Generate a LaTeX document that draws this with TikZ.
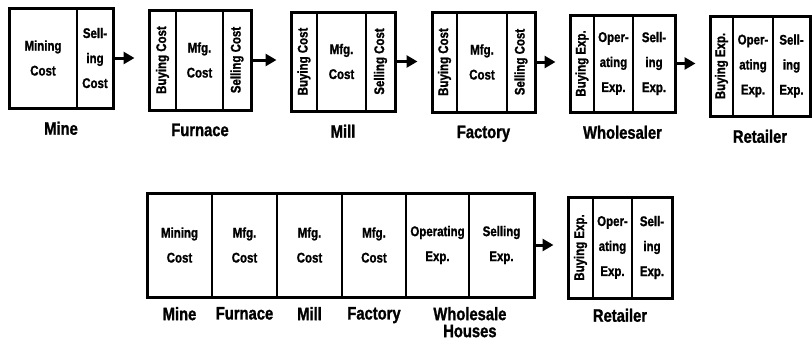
\documentclass[tikz,border=0pt]{standalone}
\usepackage{fontspec}
\setmainfont{Liberation Sans}[FakeStretch=0.82,BoldFeatures={FakeBold=1.2}]
\usetikzlibrary{positioning,arrows.meta}

\begin{document}
\begin{tikzpicture}[x=1pt,y=-1pt,
    stage/.style ={draw, line width=3pt, inner sep=0pt},
    cell/.style ={draw, line width=1.8pt, inner sep=0pt, align=center,
      font=\bfseries\fontsize{14}{25}\selectfont},
    side/.style ={cell, rotate=90},
    stagename/.style ={inner sep=0pt, align=center,
      font=\bfseries\fontsize{18}{17}\selectfont},
    flow/.style ={line width=3pt, -{Triangle[length=11pt,width=12pt]}, shorten >=13pt}]
   \useasboundingbox (0,0) rectangle (812,340);

   % top row: each stage with its own costs
   \node[cell, minimum width=68pt, minimum height=100pt] (mine1) at (43,58) {Mining\\Cost};
   \node[cell, minimum width=36pt, minimum height=100pt] (mine2) at (95,58) {Sell-\\ing\\Cost};
   \node[stage, minimum width=104pt, minimum height=100pt] (mine) at (61,58) {};
   \node[stagename, below=12pt of mine] {Mine};

   \node[side, minimum width=100pt, minimum height=27pt] (furn1) at (162.5,60) {Buying Cost};
   \node[cell, minimum width=47pt, minimum height=100pt] (furn2) at (199.5,60) {Mfg.\\Cost};
   \node[side, minimum width=100pt, minimum height=28pt] (furn3) at (237,60) {Selling Cost};
   \node[stage, minimum width=102pt, minimum height=100pt] (furnace) at (200,60) {};
   \node[stagename, below=12pt of furnace] {Furnace};

   \node[side, minimum width=99pt, minimum height=26pt] (mill1) at (304,61.5) {Buying Cost};
   \node[cell, minimum width=49pt, minimum height=99pt] (mill2) at (341.5,61.5) {Mfg.\\Cost};
   \node[side, minimum width=99pt, minimum height=29pt] (mill3) at (380.5,61.5) {Selling Cost};
   \node[stage, minimum width=104pt, minimum height=99pt] (mill) at (343,61.5) {};
   \node[stagename, below=12pt of mill] {Mill};

   \node[side, minimum width=100pt, minimum height=25pt] (fact1) at (444.5,62) {Buying Cost};
   \node[cell, minimum width=50pt, minimum height=100pt] (fact2) at (482,62) {Mfg.\\Cost};
   \node[side, minimum width=100pt, minimum height=28pt] (fact3) at (521,62) {Selling Cost};
   \node[stage, minimum width=103pt, minimum height=100pt] (factory) at (483.5,62) {};
   \node[stagename, below=12pt of factory] {Factory};

   \node[side, minimum width=97pt, minimum height=24pt] (whol1) at (582,63.5) {Buying Exp.};
   \node[cell, minimum width=39pt, minimum height=97pt] (whol2) at (613.5,63.5) {Oper-\\ating\\Exp.};
   \node[cell, minimum width=42pt, minimum height=97pt] (whol3) at (654,63.5) {Sell-\\ing\\Exp.};
   \node[stage, minimum width=105pt, minimum height=97pt] (wholesaler) at (622.5,63.5) {};
   \node[stagename, below=12pt of wholesaler] {Wholesaler};

   \node[side, minimum width=100pt, minimum height=23pt] (ret1) at (721.5,66) {Buying Exp.};
   \node[cell, minimum width=40pt, minimum height=100pt] (ret2) at (753,66) {Oper-\\ating\\Exp.};
   \node[cell, minimum width=37pt, minimum height=100pt] (ret3) at (791.5,66) {Sell-\\ing\\Exp.};
   \node[stage, minimum width=100pt, minimum height=100pt] (retailer) at (760,66) {};
   \node[stagename, below=12pt of retailer] {Retailer};

   \draw[flow] (mine) to (mine -| furnace.west);
   \draw[flow] (furnace) to (furnace -| mill.west);
   \draw[flow] (mill) to (mill -| factory.west);
   \draw[flow] (factory) to (factory -| wholesaler.west);
   \draw[flow] (wholesaler) to (wholesaler -| retailer.west);

   % bottom row: one concern does it all
   \node[cell, minimum width=65pt, minimum height=104pt] (all1) at (179.5,245) {Mining\\Cost};
   \node[cell, minimum width=65pt, minimum height=104pt] (all2) at (244.5,245) {Mfg.\\Cost};
   \node[cell, minimum width=65pt, minimum height=104pt] (all3) at (309.5,245) {Mfg.\\Cost};
   \node[cell, minimum width=64pt, minimum height=104pt] (all4) at (374,245) {Mfg.\\Cost};
   \node[cell, minimum width=63pt, minimum height=104pt] (all5) at (437.5,245) {Operating\\Exp.};
   \node[cell, minimum width=65pt, minimum height=104pt] (all6) at (501.5,245) {Selling\\Exp.};
   \node[stage, minimum width=387pt, minimum height=104pt] (combine) at (340.5,245) {};
   \node[stagename, below=9pt of all1] {Mine};
   \node[stagename, below=9pt of all2] {Furnace};
   \node[stagename, below=9pt of all3] {Mill};
   \node[stagename, below=9pt of all4] {Factory};
   \node[stagename, below=9pt of all5.south east] {Wholesale\\Houses};

   \node[side, minimum width=101pt, minimum height=25pt] (shop1) at (580.5,247.5) {Buying Exp.};
   \node[cell, minimum width=39pt, minimum height=101pt] (shop2) at (612.5,247.5) {Oper-\\ating\\Exp.};
   \node[cell, minimum width=40pt, minimum height=101pt] (shop3) at (652,247.5) {Sell-\\ing\\Exp.};
   \node[stage, minimum width=104pt, minimum height=101pt] (shop) at (620,247.5) {};
   \node[stagename, below=9pt of shop] {Retailer};

   \draw[flow] (combine) to (combine -| shop.west);
\end{tikzpicture}
\end{document}
